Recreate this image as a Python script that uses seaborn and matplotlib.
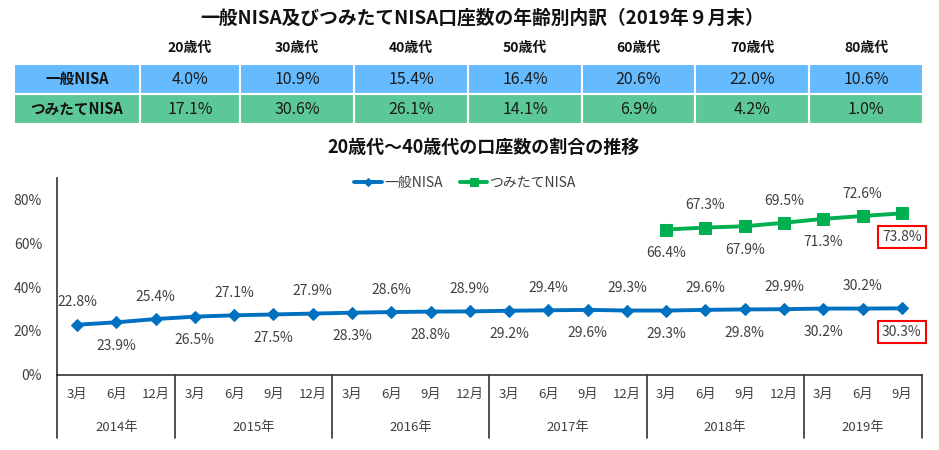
import numpy as np
import pandas as pd
import seaborn as sns
import matplotlib.pyplot as plt
import matplotlib.transforms as mtransforms
from matplotlib.patches import Rectangle

sns.set_style('white')
plt.rcParams['font.family'] = ['Noto Sans CJK JP', 'DejaVu Sans']

# table data
age_groups = ['20歳代', '30歳代', '40歳代', '50歳代', '60歳代', '70歳代', '80歳代']
table_rows = ['一般NISA', 'つみたてNISA']
ippan_by_age = [4.0, 10.9, 15.4, 16.4, 20.6, 22.0, 10.6]
tsumi_by_age = [17.1, 30.6, 26.1, 14.1, 6.9, 4.2, 1.0]

# line chart data
years = ['2014年', '2015年', '2016年', '2017年', '2018年', '2019年']
months_per_year = [['3月', '6月', '12月'],
                   ['3月', '6月', '9月', '12月'],
                   ['3月', '6月', '9月', '12月'],
                   ['3月', '6月', '9月', '12月'],
                   ['3月', '6月', '9月', '12月'],
                   ['3月', '6月', '9月']]
ippan_share = [22.8, 23.9, 25.4, 26.5, 27.1, 27.5, 27.9, 28.3, 28.6, 28.8, 28.9,
               29.2, 29.4, 29.6, 29.3, 29.3, 29.6, 29.8, 29.9, 30.2, 30.2, 30.3]
tsumi_share = [66.4, 67.3, 67.9, 69.5, 71.3, 72.6, 73.8]

months = [m for ms in months_per_year for m in ms]
n = len(months)
df_ippan = pd.DataFrame({'pos': np.arange(n), 'share': ippan_share})
df_tsumi = pd.DataFrame({'pos': np.arange(n - len(tsumi_share), n), 'share': tsumi_share})

blue = '#0070C0'
green = '#00B050'
txt = '#404040'

fig = plt.figure(figsize=(9.39, 4.5), dpi=100)

# background axes in pixel coords for title + table
bg = fig.add_axes([0, 0, 1, 1])
bg.set_xlim(0, 939)
bg.set_ylim(450, 0)
bg.axis('off')

bg.text(482, 18, '一般NISA及びつみたてNISA口座数の年齢別内訳（2019年９月末）',
        ha='center', va='center', fontsize=13.5, fontweight='bold', color='#111111')

col_edges = [14, 140, 240, 354, 468, 582, 695, 809, 923]
row_edges = [64, 94, 124]
row_colors = ['#66BBFF', '#5CC897']
for j, a in enumerate(age_groups):
    cx = (col_edges[j + 1] + col_edges[j + 2]) / 2
    bg.text(cx, 48, a, ha='center', va='center', fontsize=10, fontweight='bold', color='#111111')
for i, (name, vals) in enumerate(zip(table_rows, [ippan_by_age, tsumi_by_age])):
    y0, y1 = row_edges[i], row_edges[i + 1]
    for j in range(len(col_edges) - 1):
        bg.add_patch(Rectangle((col_edges[j], y0), col_edges[j + 1] - col_edges[j], y1 - y0,
                               facecolor=row_colors[i], edgecolor='white', lw=1.5))
    bg.text((col_edges[0] + col_edges[1]) / 2, (y0 + y1) / 2, name, ha='center', va='center',
            fontsize=10.5, fontweight='bold', color='#111111')
    for j, v in enumerate(vals):
        cx = (col_edges[j + 1] + col_edges[j + 2]) / 2
        bg.text(cx, (y0 + y1) / 2, f'{v:.1f}%', ha='center', va='center', fontsize=11.5, color='#1a1a1a')

bg.text(484, 147, '20歳代～40歳代の口座数の割合の推移', ha='center', va='center',
        fontsize=13, fontweight='bold', color='#111111')

# line chart
ax = fig.add_axes([57.4 / 939, 1 - 374.5 / 450, 864.1 / 939, 196.5 / 450])
ax.patch.set_alpha(0)
sns.lineplot(data=df_ippan, x='pos', y='share', ax=ax, color=blue, lw=2.8,
             marker='D', markersize=6.5, markeredgecolor=blue, label='一般NISA')
sns.lineplot(data=df_tsumi, x='pos', y='share', ax=ax, color=green, lw=2.8,
             marker='s', markersize=8.5, markeredgecolor=green, label='つみたてNISA')

ax.set_xlim(-0.5, n - 0.5)
ax.set_ylim(0, 90)
ax.set_yticks([0, 20, 40, 60, 80])
ax.set_yticklabels([f'{t}%' for t in [0, 20, 40, 60, 80]], fontsize=10, color=txt)
ax.set_xticks(np.arange(n))
ax.set_xticklabels(months, fontsize=9.5, color=txt)
ax.tick_params(axis='both', length=0)
ax.tick_params(axis='x', pad=10)
ax.tick_params(axis='y', pad=11)
ax.set_xlabel('')
ax.set_ylabel('')
for s in ['top', 'right']:
    ax.spines[s].set_visible(False)
for s in ['left', 'bottom']:
    ax.spines[s].set_color('#333333')
    ax.spines[s].set_linewidth(1.2)

# year groups below the axis
trans = mtransforms.blended_transform_factory(ax.transData, ax.transAxes)
bounds = np.concatenate([[0], np.cumsum([len(m) for m in months_per_year])]) - 0.5
for b in bounds:
    ax.plot([b, b], [0, -0.325], transform=trans, color='#333333', lw=1.2, clip_on=False)
for k, y in enumerate(years):
    ax.text((bounds[k] + bounds[k + 1]) / 2, -0.268, y, transform=trans,
            ha='center', va='center', fontsize=9.5, color=txt)

# data labels, alternating above / below
def add_labels(df):
    last = len(df) - 1
    for k, (p, v) in enumerate(zip(df['pos'], df['share'])):
        dy = 16 if p % 2 == 0 else -17
        kw = {}
        if k == last:
            kw['bbox'] = dict(boxstyle='square,pad=0.3', fc='white', ec='red', lw=1.5)
        ax.annotate(f'{v:.1f}%', (p, v), xytext=(0, dy), textcoords='offset points',
                    ha='center', va='center', fontsize=10, color=txt, **kw)

add_labels(df_ippan)
add_labels(df_tsumi)

leg = ax.legend(loc='center', bbox_to_anchor=(0.472, 0.975), ncol=2, frameon=False,
                fontsize=10, handlelength=2.0, markerscale=0.6, columnspacing=1.2,
                handletextpad=0.2)
for t in leg.get_texts():
    t.set_color(txt)

fig.savefig('out.png', dpi=100)
